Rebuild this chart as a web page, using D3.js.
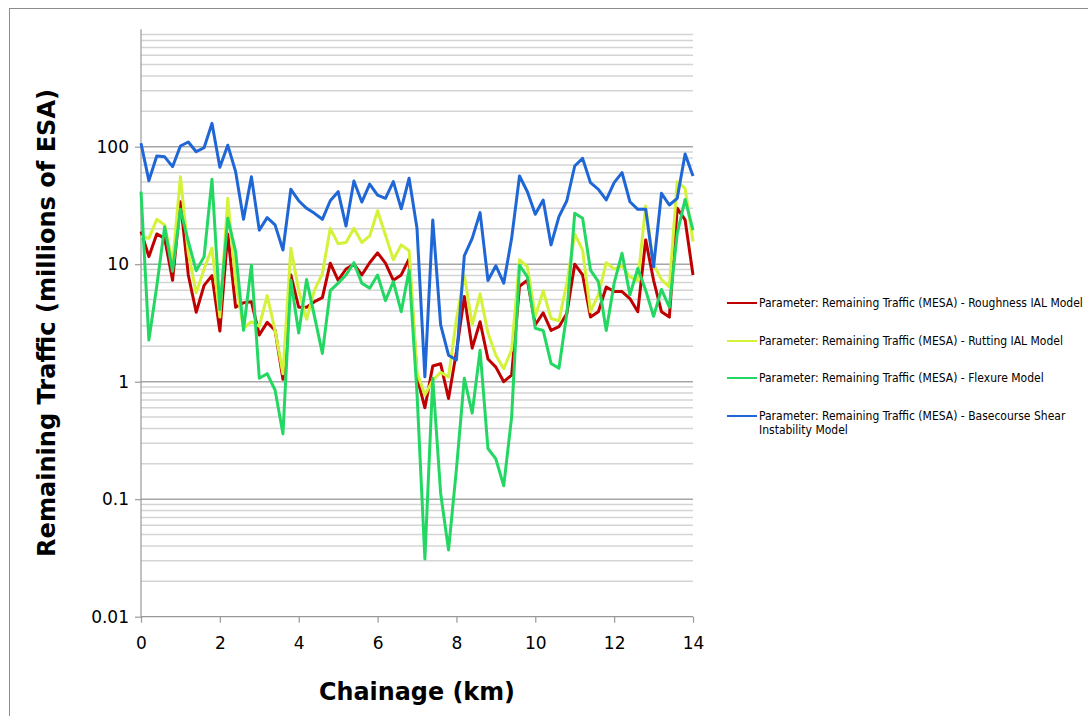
<!DOCTYPE html>
<html>
<head>
<meta charset="utf-8">
<script src="https://cdn.jsdelivr.net/npm/d3@7"></script>
<style>
  html, body { margin: 0; padding: 0; background: #fff; }
  svg { display: block; }
  text { font-family: "DejaVu Sans", Verdana, sans-serif; fill: #000; }
</style>
</head>
<body>
<svg id="chart" width="1088" height="716"></svg>
<script>
const chainage = [0,0.2,0.4,0.6,0.8,1,1.2,1.4,1.6,1.8,2,2.2,2.4,2.6,2.8,3,3.2,3.4,3.6,3.8,4,4.2,4.4,4.6,4.8,5,5.2,5.4,5.6,5.8,6,6.2,6.4,6.6,6.8,7,7.2,7.4,7.6,7.8,8,8.2,8.4,8.6,8.8,9,9.2,9.4,9.6,9.8,10,10.2,10.4,10.6,10.8,11,11.2,11.4,11.6,11.8,12,12.2,12.4,12.6,12.8,13,13.2,13.4,13.6,13.8,14];

const roughness = [19,11.6,18.1,16.6,7.3,34,8.1,3.9,6.6,8.0,2.7,18.1,4.3,4.7,4.8,2.5,3.2,2.75,1.05,8.1,4.3,4.3,4.8,5.2,10.2,7.3,9.1,10.0,8.1,10.3,12.5,10.2,7.3,8.1,11.1,1.1,0.6,1.36,1.42,0.72,1.8,5.3,1.93,3.24,1.56,1.33,1.0,1.14,6.5,7.3,3.05,3.85,2.73,2.94,3.8,10,8.1,3.55,3.94,6.4,5.85,5.85,5.1,3.94,16.1,7.3,3.94,3.55,29.9,23.8,8.1];

const rutting = [17.2,16.6,24.1,21.6,10,55.6,12.4,5.7,9.1,13.7,3.55,36.4,7.1,2.85,3.24,2.96,5.4,2.74,1.17,13.7,6.0,3.4,6.0,8.3,20.2,14.9,15.3,20.2,15.3,17.4,28.5,17.7,10.9,14.6,13.0,1.2,0.77,1.03,1.2,1.1,3.4,8.1,3.05,5.6,2.6,1.68,1.29,1.87,10.9,9.5,3.6,5.95,3.45,3.3,6.9,18.1,13.2,3.94,5.5,10.3,9.1,9.7,7.8,7.26,31.3,10,7.4,6.4,50.4,44.2,15.6];

const flexure = [41.4,2.26,6.5,20.8,8.7,29.3,15.6,8.8,11.6,52.8,4.1,24.6,12.8,2.74,9.8,1.07,1.17,0.85,0.36,7.3,2.6,7.4,3.6,1.74,5.95,6.9,8.1,10.3,6.9,6.25,8.1,4.9,7.1,3.94,8.9,0.8,0.031,1.07,0.112,0.037,0.18,1.07,0.54,1.85,0.27,0.22,0.13,0.5,9.8,7.8,2.85,2.73,1.43,1.3,3.8,27.1,24.6,8.9,7.1,2.73,6.9,12.4,5.5,9.2,6.0,3.6,6.1,4.3,18.3,35.6,19.5];

const basecourse = [106.9,51.4,83.3,82,67.6,101.4,109.6,90.7,98,158,66.8,103,61.3,24.1,55.6,19.5,24.9,21.6,13.2,43.4,34.7,29.9,27.1,24.1,34.7,41.4,21.1,51,33.8,48.1,38.8,36.4,50.4,29.6,53.9,20.2,1.1,23.8,3.05,1.68,1.53,11.8,16.6,27.5,7.26,9.7,6.9,16.6,56.3,41.4,26.6,35.2,14.6,25.4,34.7,68.5,79.6,49.4,43.4,35.2,49.4,60.1,34.0,29.3,29.3,9.5,40.1,31.9,36.4,86.7,56.3];

const seriesNames = [
  "Parameter: Remaining Traffic (MESA) - Roughness IAL Model",
  "Parameter: Remaining Traffic (MESA) - Rutting IAL Model",
  "Parameter: Remaining Traffic (MESA) - Flexure Model",
  "Parameter: Remaining Traffic (MESA) - Basecourse Shear Instability Model"
];
const seriesColors = ["#c00000", "#d4f23a", "#22d862", "#1f66d6"];
const xTicks = [0,2,4,6,8,10,12,14];
const yMajorTicks = [0.01,0.1,1,10,100];
const yTickLabels = ["0.01","0.1","1","10","100"];
const xTitle = "Chainage (km)";
const yTitle = "Remaining Traffic (millions of ESA)";

const svg = d3.select("#chart");
const L = 141, R = 693, T = 29.2, B = 616.7;

const x = d3.scaleLinear().domain([0, 14]).range([L, R]);
const y = d3.scaleLog().domain([0.01, 1000]).range([B, T]);

// outer frame
svg.append("rect").attr("x", 9.5).attr("y", 8.5).attr("width", 1200).attr("height", 800)
  .attr("fill", "none").attr("stroke", "#8c8c8c").attr("stroke-width", 1);

// minor grid
const minor = [];
[0.01, 0.1, 1, 10, 100].forEach(d => { for (let k = 2; k <= 9; k++) minor.push(d * k); });
svg.append("g").selectAll("line").data(minor).join("line")
  .attr("x1", L).attr("x2", R)
  .attr("y1", d => y(d)).attr("y2", d => y(d))
  .attr("stroke", "#d4d4d4").attr("stroke-width", 1.5);

// major grid
svg.append("g").selectAll("line").data(yMajorTicks.slice(1)).join("line")
  .attr("x1", L).attr("x2", R)
  .attr("y1", d => y(d)).attr("y2", d => y(d))
  .attr("stroke", "#a6a6a6").attr("stroke-width", 1.5);

// y axis
const yAxis = d3.axisLeft(y).tickValues(yMajorTicks)
  .tickFormat((d, i) => yTickLabels[i]).tickSizeOuter(0).tickSize(6).tickPadding(6);
const gy = svg.append("g").attr("transform", `translate(${L},0)`).call(yAxis);
gy.select(".domain").remove();
gy.selectAll(".tick line").attr("stroke", "#999").attr("stroke-width", 1.2);
gy.selectAll(".tick text").attr("font-size", 17).attr("font-family", "DejaVu Sans")
  .attr("x", -12);
svg.append("line").attr("x1", L).attr("x2", L).attr("y1", T).attr("y2", B)
  .attr("stroke", "#999").attr("stroke-width", 1.2);

// x axis
const xAxis = d3.axisBottom(x).tickValues(xTicks).tickSizeOuter(0).tickSize(6).tickPadding(14);
const gx = svg.append("g").attr("transform", `translate(0,${B})`).call(xAxis);
gx.select(".domain").remove();
gx.selectAll(".tick line").attr("stroke", "#999").attr("stroke-width", 1.2);
gx.selectAll(".tick text").attr("font-size", 17).attr("font-family", "DejaVu Sans");
svg.append("line").attr("x1", L).attr("x2", R).attr("y1", B).attr("y2", B)
  .attr("stroke", "#999").attr("stroke-width", 1.2);

// lines
const series = [roughness, rutting, flexure, basecourse];
const line = d3.line().x((d, i) => x(chainage[i])).y(d => y(d));
svg.append("g").selectAll("path").data(series).join("path")
  .attr("d", d => line(d))
  .attr("fill", "none")
  .attr("stroke", (d, i) => seriesColors[i])
  .attr("stroke-width", 3)
  .attr("stroke-linejoin", "round");

// titles
svg.append("text").attr("x", (L + R) / 2).attr("y", 700).attr("text-anchor", "middle")
  .attr("font-size", 25).attr("font-weight", "bold")
  .attr("textLength", 196).attr("lengthAdjust", "spacingAndGlyphs")
  .text(xTitle);
svg.append("text").attr("transform", `translate(55,${(T + B) / 2}) rotate(-90)`)
  .attr("text-anchor", "middle")
  .attr("font-size", 25).attr("font-weight", "bold")
  .attr("textLength", 468).attr("lengthAdjust", "spacingAndGlyphs")
  .text(yTitle);

// legend
const legY = [303, 341, 378, 416];
const leg = svg.append("g");
seriesNames.forEach((name, i) => {
  leg.append("line").attr("x1", 727).attr("x2", 757)
    .attr("y1", legY[i]).attr("y2", legY[i])
    .attr("stroke", seriesColors[i]).attr("stroke-width", 2);
  const t = leg.append("text").attr("x", 759).attr("y", legY[i] + 4)
    .attr("font-size", 12).attr("font-stretch", "condensed");
  if (i === 3) {
    t.append("tspan").text("Parameter: Remaining Traffic (MESA) - Basecourse Shear");
    t.append("tspan").attr("x", 759).attr("dy", 14).text("Instability Model");
  } else {
    t.text(name);
  }
});
</script>
</body>
</html>
